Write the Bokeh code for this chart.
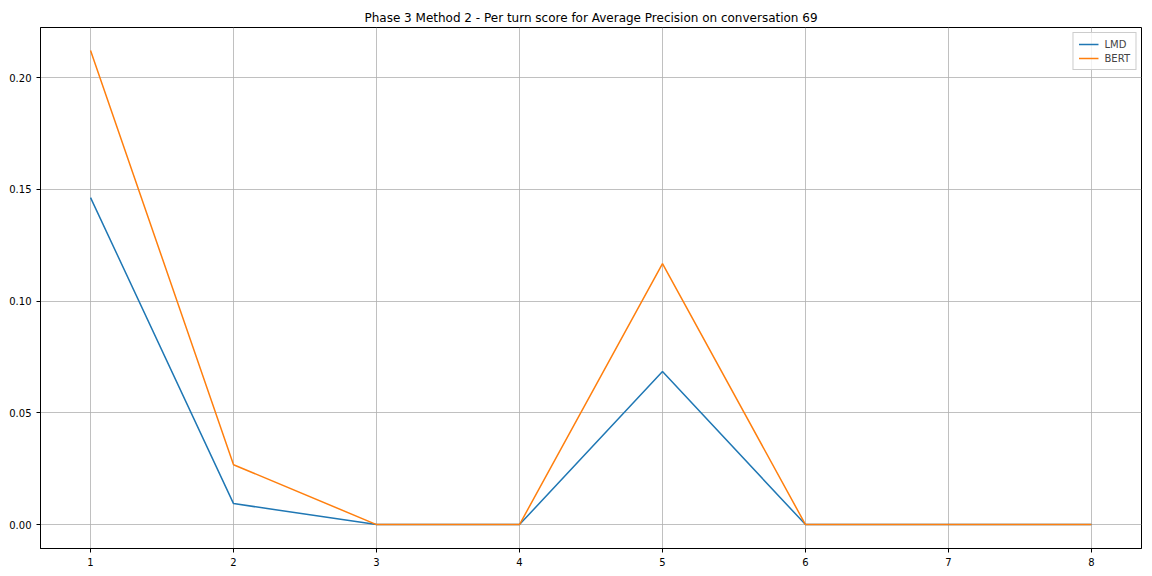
from bokeh.plotting import figure
from bokeh.models import FixedTicker, NumeralTickFormatter, Range1d, Legend, LegendItem, Title
from bokeh.embed import file_html
from bokeh.resources import INLINE

turns = [1, 2, 3, 4, 5, 6, 7, 8]
lmd = [0.1463, 0.0094, 0.0, 0.0, 0.0685, 0.0, 0.0, 0.0]
bert = [0.2121, 0.0268, 0.0, 0.0, 0.1168, 0.0, 0.0, 0.0]
y_ticks = [0.0, 0.05, 0.10, 0.15, 0.20]
title_text = "Phase 3 Method 2 - Per turn score for Average Precision on conversation 69"

FONT = "DejaVu Sans"

p = figure(frame_width=1101, frame_height=521, output_backend="svg", toolbar_location=None,
           x_range=Range1d(0.65, 8.35), y_range=Range1d(-0.0107, 0.2224),
           min_border_left=40, min_border_right=11, min_border_top=27, min_border_bottom=28)
p.title = Title(text=title_text, align="center", text_font=FONT, text_font_size="12px",
                text_font_style="normal", text_color="black", standoff=5)

p.outline_line_color = "black"
p.outline_line_width = 1

for ax in (p.xaxis[0], p.yaxis[0]):
    ax.major_label_text_font = FONT
    ax.major_label_text_font_size = "10px"
    ax.major_label_text_color = "black"
    ax.axis_line_color = "black"
    ax.major_tick_line_color = "black"
    ax.major_tick_in = 0
    ax.major_tick_out = 4
    ax.minor_tick_line_color = None

p.xaxis[0].ticker = FixedTicker(ticks=turns)
p.yaxis[0].ticker = FixedTicker(ticks=y_ticks)
p.yaxis[0].formatter = NumeralTickFormatter(format="0.00")

p.xgrid.ticker = FixedTicker(ticks=turns)
p.ygrid.ticker = FixedTicker(ticks=y_ticks)
for g in (p.xgrid[0], p.ygrid[0]):
    g.grid_line_color = "#b0b0b0"
    g.grid_line_width = 0.8

r1 = p.line(turns, lmd, line_color="#1f77b4", line_width=1.5)
r2 = p.line(turns, bert, line_color="#ff7f0e", line_width=1.5)

legend = Legend(items=[LegendItem(label="LMD", renderers=[r1]),
                       LegendItem(label="BERT", renderers=[r2])],
                location="top_right", label_text_font=FONT, label_text_font_size="10px",
                border_line_color="#cccccc", border_line_alpha=1.0, background_fill_alpha=0.8,
                glyph_width=20, glyph_height=12, label_height=12, spacing=2, padding=5,
                margin=5, label_standoff=6)
p.add_layout(legend)

open("out.html", "w").write(file_html(p, INLINE))
